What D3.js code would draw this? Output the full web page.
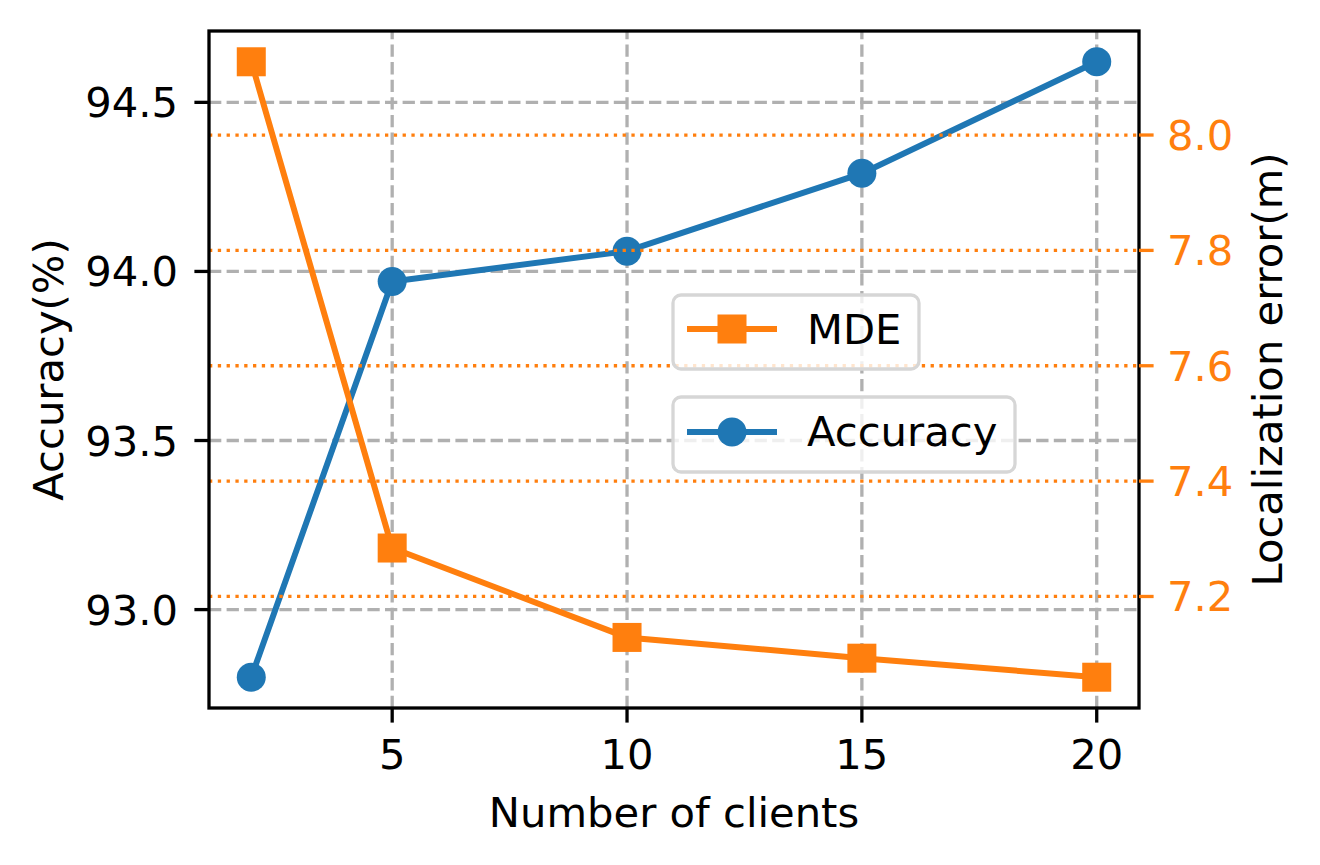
<!DOCTYPE html>
<html>
<head>
    <meta charset="utf-8">
    <title>Accuracy and MDE vs number of clients</title>
    <script src="https://d3js.org/d3.v7.min.js"></script>
    <style>
        body { margin: 0; background: #fff; }
        svg text {
            font-family: "DejaVu Sans", sans-serif;
            font-size: 41.7px;
        }
    </style>
</head>
<body>
    <div id="chart"></div>
    <script>
        // data
        const clients = [2, 5, 10, 15, 20];
        const accuracy = [92.80, 93.97, 94.06, 94.29, 94.62];
        const mde = [8.127, 7.284, 7.129, 7.093, 7.060];

        const xTicks = [5, 10, 15, 20];
        const accTicks = [93.0, 93.5, 94.0, 94.5];
        const mdeTicks = [7.2, 7.4, 7.6, 7.8, 8.0];

        const width = 1320, height = 865;
        const plot = { left: 209, right: 1139, top: 31, bottom: 708 };
        const blue = "#1f77b4", orange = "#ff7f0e";
        const lw = 3.3, tickLen = 14.6;

        // matplotlib-like 5% padding
        function padded(vals) {
            const [a, b] = d3.extent(vals);
            const m = (b - a) * 0.05;
            return [a - m, b + m];
        }

        const x = d3.scaleLinear().domain(padded(clients)).range([plot.left, plot.right]);
        const yAcc = d3.scaleLinear().domain(padded(accuracy)).range([plot.bottom, plot.top]);
        const yMde = d3.scaleLinear().domain(padded(mde)).range([plot.bottom, plot.top]);

        const svg = d3.select("#chart").append("svg")
            .attr("width", width)
            .attr("height", height);

        // gray dashed grid (left axis)
        const grid = svg.append("g");
        grid.selectAll(".vgrid")
            .data(xTicks)
            .join("line")
            .attr("x1", d => x(d)).attr("x2", d => x(d))
            .attr("y1", plot.bottom).attr("y2", plot.top)
            .attr("stroke", "#b0b0b0")
            .attr("stroke-width", lw)
            .attr("stroke-dasharray", "12.3,5.3");
        grid.selectAll(".hgrid")
            .data(accTicks)
            .join("line")
            .attr("x1", plot.left).attr("x2", plot.right)
            .attr("y1", d => yAcc(d)).attr("y2", d => yAcc(d))
            .attr("stroke", "#b0b0b0")
            .attr("stroke-width", lw)
            .attr("stroke-dasharray", "12.3,5.3");

        // accuracy line
        const accLine = d3.line()
            .x((d, i) => x(clients[i]))
            .y(d => yAcc(d));
        svg.append("path")
            .datum(accuracy)
            .attr("d", accLine)
            .attr("fill", "none")
            .attr("stroke", blue)
            .attr("stroke-width", 6);
        svg.selectAll(".acc-dot")
            .data(accuracy)
            .join("circle")
            .attr("cx", (d, i) => x(clients[i]))
            .attr("cy", d => yAcc(d))
            .attr("r", 14.5)
            .attr("fill", blue);

        // legend box helper
        function legendBox(g, bx, by, bw, bh) {
            g.append("rect")
                .attr("x", bx).attr("y", by)
                .attr("width", bw).attr("height", bh)
                .attr("rx", 8).attr("ry", 8)
                .attr("fill", "rgba(255,255,255,0.8)")
                .attr("stroke", "#d6d6d6")
                .attr("stroke-width", lw);
        }

        // Accuracy legend (belongs to left axes)
        const legAcc = svg.append("g");
        legendBox(legAcc, 673, 397, 342, 75);
        legAcc.append("line")
            .attr("x1", 687).attr("x2", 777)
            .attr("y1", 432).attr("y2", 432)
            .attr("stroke", blue).attr("stroke-width", 6);
        legAcc.append("circle")
            .attr("cx", 732).attr("cy", 432).attr("r", 14.5)
            .attr("fill", blue);
        legAcc.append("text")
            .attr("x", 807).attr("y", 446)
            .text("Accuracy");

        // orange dotted grid (right axis)
        svg.append("g").selectAll("line")
            .data(mdeTicks)
            .join("line")
            .attr("x1", plot.left).attr("x2", plot.right)
            .attr("y1", d => yMde(d)).attr("y2", d => yMde(d))
            .attr("stroke", orange)
            .attr("stroke-width", lw)
            .attr("stroke-dasharray", "3.3,5.5");

        // MDE line
        const mdeLine = d3.line()
            .x((d, i) => x(clients[i]))
            .y(d => yMde(d));
        svg.append("path")
            .datum(mde)
            .attr("d", mdeLine)
            .attr("fill", "none")
            .attr("stroke", orange)
            .attr("stroke-width", 6);
        svg.selectAll(".mde-dot")
            .data(mde)
            .join("rect")
            .attr("x", (d, i) => x(clients[i]) - 14.5)
            .attr("y", d => yMde(d) - 14.5)
            .attr("width", 29).attr("height", 29)
            .attr("fill", orange);

        // MDE legend (belongs to right axes)
        const legMde = svg.append("g");
        legendBox(legMde, 673, 295, 246, 74);
        legMde.append("line")
            .attr("x1", 687).attr("x2", 777)
            .attr("y1", 329).attr("y2", 329)
            .attr("stroke", orange).attr("stroke-width", 6);
        legMde.append("rect")
            .attr("x", 732 - 14.5).attr("y", 329 - 14.5)
            .attr("width", 29).attr("height", 29)
            .attr("fill", orange);
        legMde.append("text")
            .attr("x", 807).attr("y", 344)
            .text("MDE");

        // spines
        svg.append("rect")
            .attr("x", plot.left).attr("y", plot.top)
            .attr("width", plot.right - plot.left)
            .attr("height", plot.bottom - plot.top)
            .attr("fill", "none")
            .attr("stroke", "#000")
            .attr("stroke-width", lw);

        // bottom ticks
        const bx = svg.append("g");
        bx.selectAll("line")
            .data(xTicks)
            .join("line")
            .attr("x1", d => x(d)).attr("x2", d => x(d))
            .attr("y1", plot.bottom).attr("y2", plot.bottom + tickLen)
            .attr("stroke", "#000").attr("stroke-width", lw);
        bx.selectAll("text")
            .data(xTicks)
            .join("text")
            .attr("x", d => x(d))
            .attr("y", 769)
            .attr("text-anchor", "middle")
            .text(d => d);

        // left ticks
        const ly = svg.append("g");
        ly.selectAll("line")
            .data(accTicks)
            .join("line")
            .attr("x1", plot.left - tickLen).attr("x2", plot.left)
            .attr("y1", d => yAcc(d)).attr("y2", d => yAcc(d))
            .attr("stroke", "#000").attr("stroke-width", lw);
        ly.selectAll("text")
            .data(accTicks)
            .join("text")
            .attr("x", 178)
            .attr("y", d => yAcc(d) + 15)
            .attr("text-anchor", "end")
            .text(d => d.toFixed(1));

        // right ticks (orange)
        const ry = svg.append("g");
        ry.selectAll("line")
            .data(mdeTicks)
            .join("line")
            .attr("x1", plot.right).attr("x2", plot.right + tickLen)
            .attr("y1", d => yMde(d)).attr("y2", d => yMde(d))
            .attr("stroke", orange).attr("stroke-width", lw);
        ry.selectAll("text")
            .data(mdeTicks)
            .join("text")
            .attr("x", 1167)
            .attr("y", d => yMde(d) + 15)
            .attr("fill", orange)
            .text(d => d.toFixed(1));

        // axis labels
        svg.append("text")
            .attr("x", (plot.left + plot.right) / 2)
            .attr("y", 827)
            .attr("text-anchor", "middle")
            .text("Number of clients");
        svg.append("text")
            .attr("transform", `translate(63,${(plot.top + plot.bottom) / 2}) rotate(-90)`)
            .attr("text-anchor", "middle")
            .text("Accuracy(%)");
        svg.append("text")
            .attr("transform", `translate(1282,${(plot.top + plot.bottom) / 2}) rotate(-90)`)
            .attr("text-anchor", "middle")
            .text("Localization error(m)");
    </script>
</body>
</html>
